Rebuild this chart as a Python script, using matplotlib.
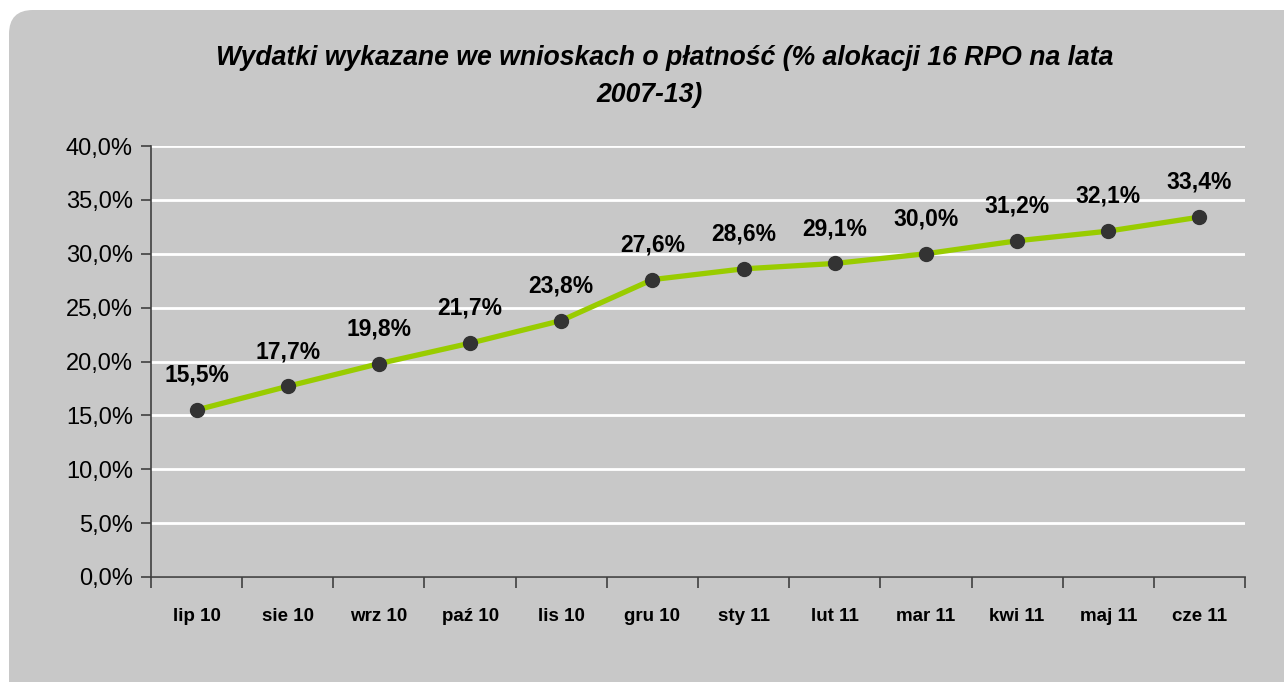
import matplotlib.pyplot as plt
from matplotlib.patches import FancyBboxPatch
from matplotlib.ticker import FuncFormatter, FixedLocator
import numpy as np

months = ["lip 10", "sie 10", "wrz 10", "paź 10", "lis 10", "gru 10",
          "sty 11", "lut 11", "mar 11", "kwi 11", "maj 11", "cze 11"]
values = [15.5, 17.7, 19.8, 21.7, 23.8, 27.6, 28.6, 29.1, 30.0, 31.2, 32.1, 33.4]
labels = ["15,5%", "17,7%", "19,8%", "21,7%", "23,8%", "27,6%",
          "28,6%", "29,1%", "30,0%", "31,2%", "32,1%", "33,4%"]

W, H = 1284, 682
plt.rcParams['font.family'] = ['Liberation Sans', 'DejaVu Sans']

fig = plt.figure(figsize=(W / 100, H / 100), dpi=100)
fig.patch.set_facecolor("white")

# grey rounded panel (pixel coords), running off the right and bottom edges
panel = FancyBboxPatch((9, -40), 1330, H - 10 + 40,
                       boxstyle="round,pad=0,rounding_size=24",
                       transform=None, facecolor="#c8c8c8",
                       edgecolor="none", zorder=-5)
fig.patches.append(panel)

ax = fig.add_axes([151 / W, 1 - 577 / H, (1245 - 151) / W, (577 - 146) / H])
ax.patch.set_visible(False)

x = np.arange(len(months))
ax.plot(x, values, color="#99cc00", lw=3.8, zorder=3, solid_capstyle="round")
ax.plot(x, values, "o", color="#333333", ms=10, zorder=4)

for xi, v, lab in zip(x, values, labels):
    ax.annotate(lab, (xi, v), xytext=(0, 25), textcoords="offset points",
                ha="center", va="center", fontsize=16.5, fontweight="bold",
                color="black")

ax.set_xlim(-0.5, len(months) - 0.5)
ax.set_ylim(0, 40)
ax.set_yticks(np.arange(0, 41, 5))
ax.yaxis.set_major_formatter(FuncFormatter(lambda v, p: f"{v:.1f}%".replace(".", ",")))
ax.grid(axis="y", color="white", lw=2)
ax.set_axisbelow(True)

ax.xaxis.set_major_locator(FixedLocator(np.arange(-0.5, len(months), 1.0)))
ax.set_xticklabels([])
ax.xaxis.set_minor_locator(FixedLocator(x))
ax.set_xticklabels(months, minor=True, fontsize=13.5, fontweight="bold")
ax.tick_params(axis="x", which="major", length=8, color="#404040", width=1.2, direction="out")
ax.tick_params(axis="x", which="minor", length=0, pad=22)
ax.tick_params(axis="y", length=7, color="#404040", width=1.2, labelsize=17, pad=6)

for s in ["top", "right"]:
    ax.spines[s].set_visible(False)
for s in ["left", "bottom"]:
    ax.spines[s].set_color("#404040")
    ax.spines[s].set_linewidth(1.2)

fig.text(665 / W, 1 - 58 / H, "Wydatki wykazane we wnioskach o płatność (% alokacji 16 RPO na lata",
         ha="center", va="center", fontsize=19.2, fontweight="bold", fontstyle="italic")
fig.text(650 / W, 1 - 95 / H, "2007-13)",
         ha="center", va="center", fontsize=19.2, fontweight="bold", fontstyle="italic")

fig.savefig("out.png", dpi=100, facecolor="white")
